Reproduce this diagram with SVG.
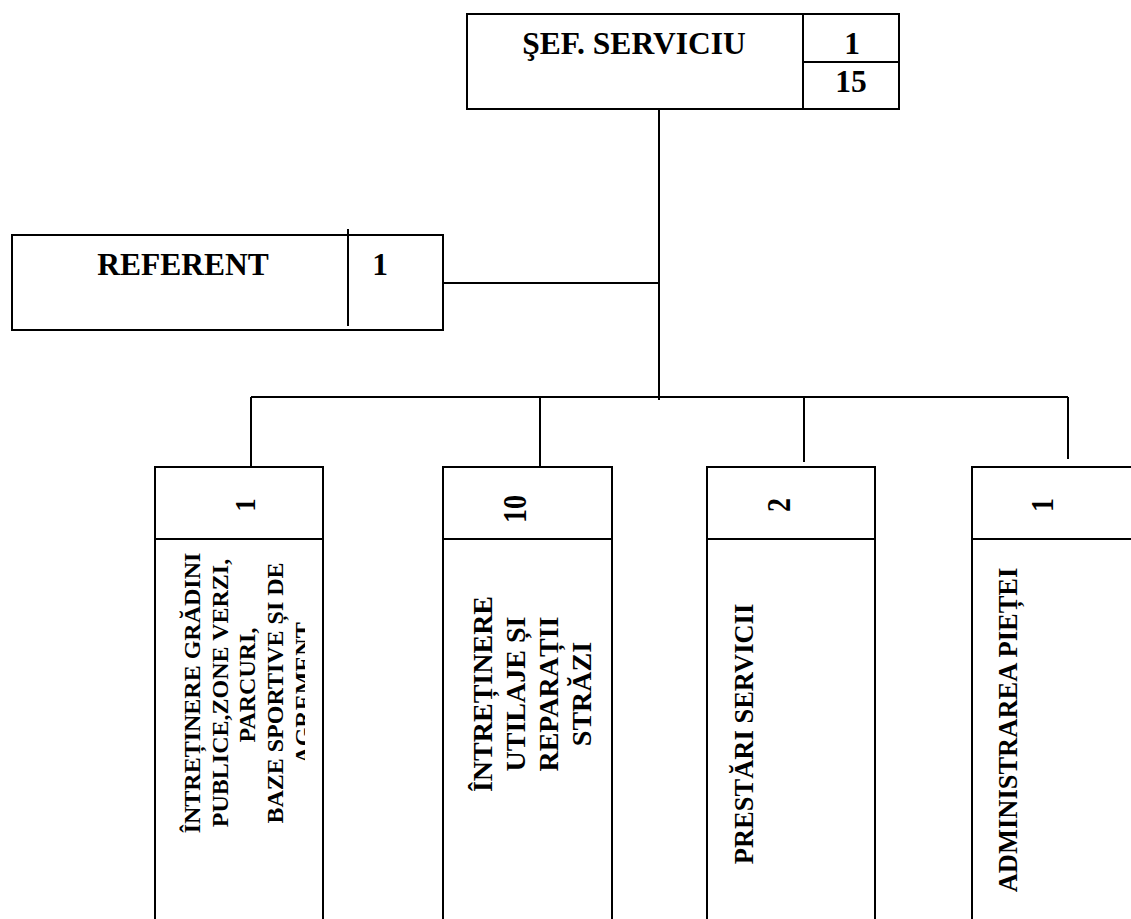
<svg xmlns="http://www.w3.org/2000/svg" width="1131" height="919" viewBox="0 0 1131 919">
<style>
.box{fill:#fff;stroke:#000;stroke-width:2}
.ln{stroke:#000;stroke-width:2;fill:none}
.t{font-family:"Liberation Serif","Times New Roman",serif;font-weight:bold;fill:#000;text-anchor:middle}
</style>
<defs>
<clipPath id="c1"><rect x="157" y="541" width="148" height="400"/></clipPath>
</defs>
<rect width="1131" height="919" fill="#fff"/>
<g id="connectors">
<line class="ln" x1="659" y1="109" x2="659" y2="400"/>
<line class="ln" x1="443" y1="283" x2="659" y2="283"/>
<line class="ln" x1="251" y1="397" x2="1068" y2="397"/>
<line class="ln" x1="251" y1="397" x2="251" y2="467"/>
<line class="ln" x1="540" y1="397" x2="540" y2="467"/>
<line class="ln" x1="804" y1="397" x2="804" y2="462"/>
<line class="ln" x1="1068" y1="397" x2="1068" y2="459"/>
</g>
<g id="sef">
<rect class="box" x="467" y="14" width="432" height="95"/>
<line class="ln" x1="803" y1="14" x2="803" y2="109"/>
<line class="ln" x1="803" y1="62" x2="899" y2="62"/>
<text class="t" x="634" y="54" font-size="31.5">ŞEF. SERVICIU</text>
<text class="t" x="852" y="54" font-size="31.5">1</text>
<text class="t" x="851" y="92" font-size="31.5">15</text>
</g>
<g id="referent">
<rect class="box" x="12" y="235" width="431" height="95"/>
<line class="ln" x1="348" y1="229" x2="348" y2="326"/>
<text class="t" x="183" y="275" font-size="31.5">REFERENT</text>
<text class="t" x="380" y="275" font-size="31.5">1</text>
</g>
<g id="gradini">
<rect class="box" x="155" y="467" width="168" height="470"/>
<line class="ln" x1="155" y1="539" x2="323" y2="539"/>
<text class="t" transform="translate(255,505) rotate(-90) scale(1,1.1)" font-size="27">1</text>
<g clip-path="url(#c1)">
<text class="t" transform="translate(200,693) rotate(-90)" font-size="24"><tspan x="0" dy="0">ÎNTREȚINERE GRĂDINI</tspan><tspan x="0" dy="28">PUBLICE,ZONE VERZI,</tspan><tspan x="8" dy="27">PARCURI,</tspan><tspan x="0" dy="28">BAZE SPORTIVE ȘI DE</tspan><tspan x="0" dy="28">AGREMENT</tspan></text>
</g>
</g>
<g id="utilaje">
<rect class="box" x="443" y="467" width="169" height="470"/>
<line class="ln" x1="443" y1="539" x2="612" y2="539"/>
<text class="t" transform="translate(526,509) rotate(-90) scale(1,1.2)" font-size="28">10</text>
<text class="t" transform="translate(492,694) rotate(-90)" font-size="28"><tspan x="0" dy="0">ÎNTREȚINERE</tspan><tspan x="0" dy="33">UTILAJE ȘI</tspan><tspan x="0" dy="33">REPARAȚII</tspan><tspan x="0" dy="33">STRĂZI</tspan></text>
</g>
<g id="prestari">
<rect class="box" x="707" y="467" width="168" height="470"/>
<line class="ln" x1="707" y1="539" x2="875" y2="539"/>
<text class="t" transform="translate(790,505) rotate(-90) scale(1,1.2)" font-size="28">2</text>
<text class="t" transform="translate(753,734) rotate(-90)" font-size="26.5">PRESTĂRI SERVICII</text>
</g>
<g id="piata">
<rect class="box" x="972" y="467" width="200" height="470"/>
<line class="ln" x1="972" y1="539" x2="1172" y2="539"/>
<text class="t" transform="translate(1053,505) rotate(-90) scale(1,1.15)" font-size="28">1</text>
<text class="t" transform="translate(1017,730) rotate(-90)" font-size="26.5">ADMINISTRAREA PIEȚEI</text>
</g>
</svg>
